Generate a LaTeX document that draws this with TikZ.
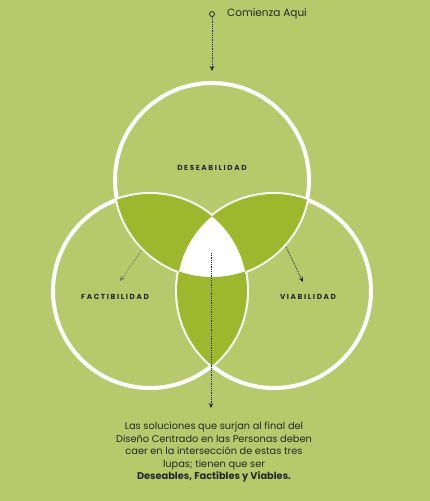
\documentclass[tikz,border=0pt]{standalone}
\usepackage{fontspec}
\setmainfont{Poppins}
\usetikzlibrary{arrows.meta}
\definecolor{fondo}{RGB}{183,202,107}
\definecolor{cruce}{RGB}{157,184,45}
\definecolor{tinta}{RGB}{38,38,38}
\tikzstyle{lupa} = [draw=white, line width=4pt]
\tikzstyle{etiqueta} = [font=\fontsize{7.3}{8}\selectfont\bfseries\addfontfeature{LetterSpace=22}, text=tinta, inner sep=0pt]
\tikzstyle{guia} = [densely dotted, line width=.8pt, draw=tinta, -{Stealth[length=5pt,width=4.5pt]}]
\tikzstyle{texto} = [font=\fontsize{9.8}{12.5}\selectfont, text=tinta, align=center, inner sep=0pt]
\newcommand{\radio}{97}

\begin{document}
\begin{tikzpicture}[x=1pt, y=-1pt]%
	\useasboundingbox (0,0) rectangle (430,501);%
	\fill[fondo] (0,0) rectangle (430,501);%
	% centros de las tres lupas
	\coordinate (arriba) at (212,180);%
	\coordinate (izq) at (150,291);%
	\coordinate (der) at (274,291);%
	\draw[lupa] (arriba) circle (\radio);%
	\draw[lupa] (izq) circle (\radio);%
	\draw[lupa] (der) circle (\radio);%
	% intersecciones de dos
	\begin{scope} \clip (arriba) circle (\radio); \fill[cruce] (izq) circle (\radio); \end{scope}%
	\begin{scope} \clip (arriba) circle (\radio); \fill[cruce] (der) circle (\radio); \end{scope}%
	\begin{scope} \clip (izq) circle (\radio); \fill[cruce] (der) circle (\radio); \end{scope}%
	% interseccion de las tres
	\begin{scope} \clip (arriba) circle (\radio); \clip (izq) circle (\radio); \fill[white] (der) circle (\radio); \end{scope}%
	\node[etiqueta] (deseable) at (212,168) {DESEABILIDAD};%
	\node[etiqueta] (factible) at (115,297) {FACTIBILIDAD};%
	\node[etiqueta] (viable) at (308,297) {VIABILIDAD};%
	% flechas
	\node[circle, draw=tinta, line width=.8pt, inner sep=0pt, minimum size=5pt] (inicio) at (212,14) {};%
	\node[texto, anchor=west, font=\fontsize{10.5}{12.5}\selectfont] (comienza) at (227,14) {Comienza Aqui};%
	\coordinate (entrada) at (212,71);%
	\draw[guia] (inicio) -- (entrada);%
	\coordinate (fa) at (142,250);%
	\coordinate (fb) at (120,281);%
	\draw[guia, draw=tinta!65] (fa) -- (fb);%
	\coordinate (va) at (286,247);%
	\coordinate (vb) at (303,282);%
	\draw[guia] (va) -- (vb);%
	\coordinate (centro) at (211,253);%
	\coordinate (salida) at (211,408);%
	\draw[guia] (centro) -- (salida);%
	\node[texto, anchor=north] (nota) at (214,422) {Las soluciones que surjan al final del\\%
		Diseño Centrado en las Personas deben\\%
		caer en la intersección de estas tres\\%
		lupas; tienen que ser\\%
		\textbf{Deseables, Factibles y Viables.}};%
\end{tikzpicture}
\end{document}
